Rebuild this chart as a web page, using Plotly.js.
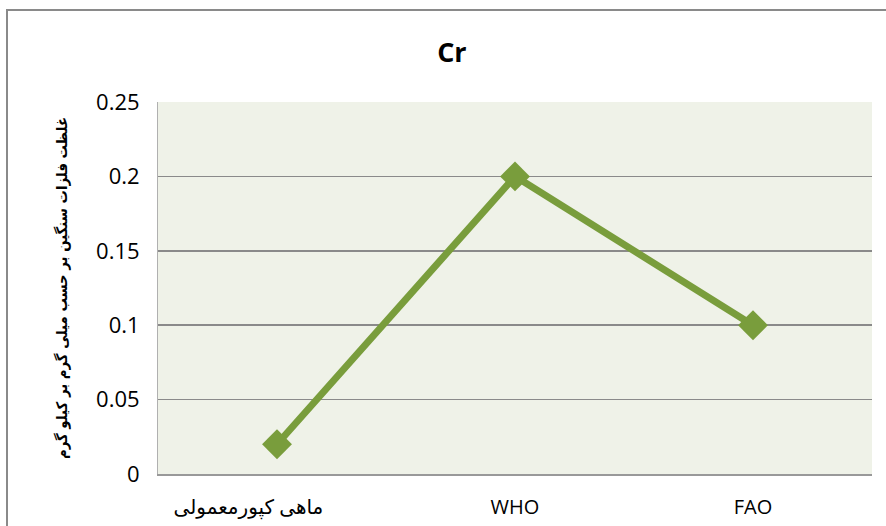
<!DOCTYPE html>
<html>
<head>
<meta charset="utf-8">
<script src="https://cdn.plot.ly/plotly-3.0.1.min.js"></script>
<style>
  html, body { margin: 0; padding: 0; background: #ffffff; }
  #chart { width: 886px; height: 526px; position: absolute; left: 0; top: 0; }
  #frame { position: absolute; left: 6px; top: 9px; width: 900px; height: 540px;
           border-left: 2px solid #8a8a8a; border-top: 2px solid #8a8a8a; pointer-events: none; }
</style>
</head>
<body>
<div id="chart"></div>
<div id="frame"></div>
<script>
const categories = ["ماهی کپورمعمولی", "WHO", "FAO"];
const categoryLabels = ["ماهی کپورمعمولی\u00a0\u00a0\u00a0\u00a0\u00a0\u00a0\u00a0\u00a0\u00a0\u00a0\u00a0", "WHO", "FAO"];
const crValues = [0.02, 0.2, 0.1];
const yTickValues = [0, 0.05, 0.1, 0.15, 0.2, 0.25];
const yTickLabels = ["0", "0.05", "0.1", "0.15", "0.2", "0.25"];
const chartTitle = "Cr";
const yTitle = "غلظت فلزات سنگین بر حسب میلی گرم بر کیلو گرم";

const trace = {
  type: "scatter",
  mode: "lines+markers",
  x: categories,
  y: crValues,
  line: { color: "#799d3c", width: 7 },
  marker: { symbol: "diamond", size: 23, color: "#799d3c" },
  hoverinfo: "x+y"
};

const layout = {
  width: 886,
  height: 526,
  paper_bgcolor: "rgba(0,0,0,0)",
  plot_bgcolor: "#eff2e8",
  margin: { l: 158, r: 14, t: 102, b: 52 },
  showlegend: false,
  title: {
    text: "<b>" + chartTitle + "</b>",
    font: { family: "Open Sans, Liberation Sans, sans-serif", size: 27, color: "#000000" },
    x: 0.51, xanchor: "center",
    y: 0.9, yanchor: "middle"
  },
  xaxis: {
    type: "category",
    range: [-0.5, 2.5],
    tickvals: categories,
    ticktext: categoryLabels,
    showgrid: false,
    zeroline: false,
    showline: true,
    linecolor: "#999999",
    linewidth: 2,
    ticks: "outside",
    ticklen: 14,
    tickcolor: "rgba(0,0,0,0)",
    tickfont: { family: "Open Sans, DejaVu Sans, sans-serif", size: 20, color: "#000000" }
  },
  yaxis: {
    range: [0, 0.25],
    tickvals: yTickValues,
    ticktext: yTickLabels,
    showgrid: true,
    gridcolor: "#8a8a8a",
    gridwidth: 1.5,
    zeroline: false,
    showline: true,
    linecolor: "#b0b0b0",
    linewidth: 1,
    ticks: "outside",
    ticklen: 13,
    tickcolor: "rgba(0,0,0,0)",
    tickfont: { family: "Open Sans, Liberation Sans, sans-serif", size: 22, color: "#000000" },
    title: {
      text: "<b>" + yTitle + "</b>",
      font: { family: "DejaVu Sans Condensed, DejaVu Sans, sans-serif", size: 14.8, color: "#000000" },
      standoff: 24
    }
  }
};

Plotly.newPlot("chart", [trace], layout, { displayModeBar: false, staticPlot: true });
</script>
</body>
</html>
